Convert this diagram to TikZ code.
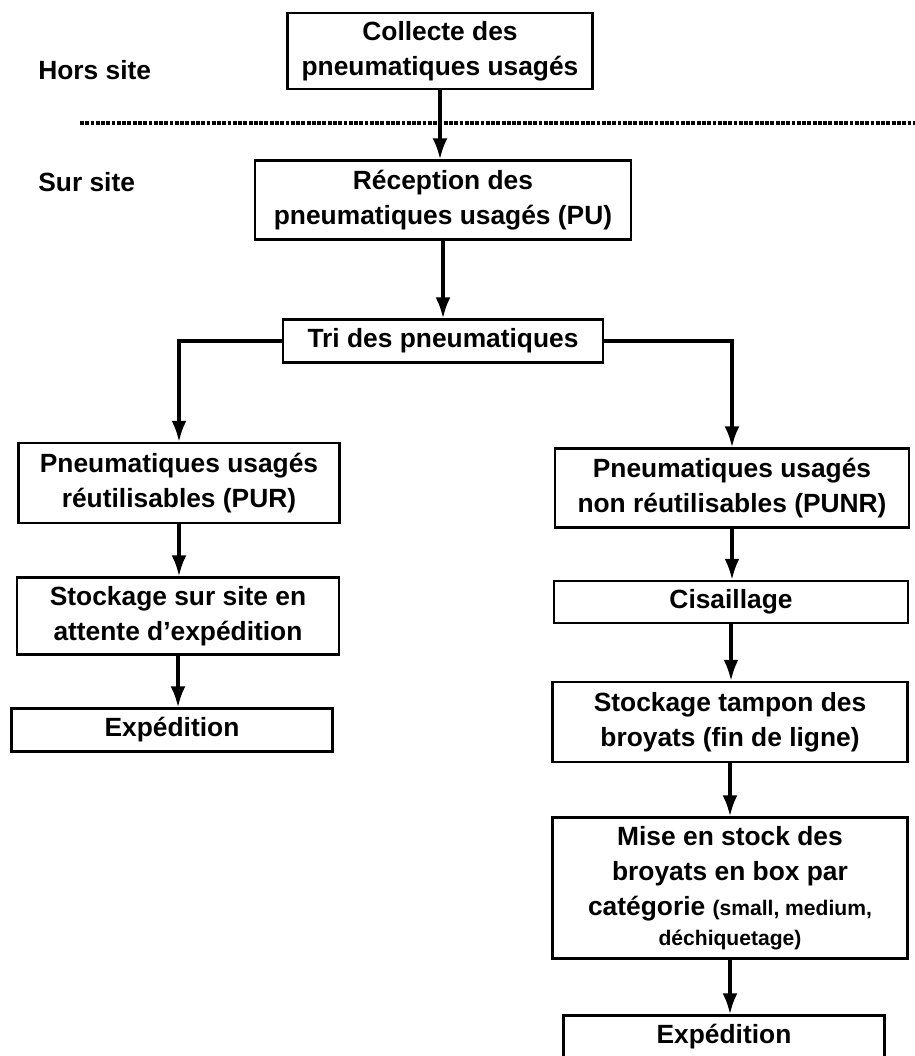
\documentclass[tikz,border=0pt]{standalone}
\usepackage{fontspec}
\setmainfont{Liberation Sans}
\usetikzlibrary{arrows.meta}
\tikzstyle{block} = [rectangle, draw=black, line width=1.3pt, align=center, inner sep=2pt, font=\bfseries\fontsize{15}{20}\selectfont]
\tikzstyle{zone} = [anchor=west, inner sep=0pt, font=\bfseries\fontsize{15}{20}\selectfont]
\tikzstyle{line} = [draw, line width=1.9pt, -{Latex[length=12pt,width=8.5pt]}]
\tikzstyle{border} = [draw, line width=2pt, dash pattern=on 2.2pt off 0.8pt]

\begin{document}
\begin{tikzpicture}[x=0.02cm, y=-0.02cm]
	\useasboundingbox (0,0) rectangle (915,1056);

	% Zones
	\node(hs) [zone] at (38,70) {Hors site};
	\node(ss) [zone] at (38,182) {Sur site};
	\coordinate (lim1) at (80,123);
	\coordinate (lim2) at (915,123);
	\path [border] (lim1) -- (lim2);

	% Main flow
	\node(c1) [block, minimum width=6.1cm, minimum height=1.52cm] at (440,51) {Collecte des\\pneumatiques usagés};
	\node(rec) [block, minimum width=7.52cm, minimum height=1.58cm] at (443,200) {Réception des\\pneumatiques usagés (PU)};
	\node(tri) [block, minimum width=6.4cm, minimum height=0.86cm] at (443,341) {Tri des pneumatiques};

	% Left branch
	\node(pur) [block, minimum width=6.42cm, minimum height=1.6cm] at (179,483) {Pneumatiques usagés\\réutilisables (PUR)};
	\node(sto) [block, minimum width=6.44cm, minimum height=1.54cm] at (178,616) {Stockage sur site en\\attente d'expédition};
	\node(exp1) [block, minimum width=6.42cm, minimum height=0.86cm] at (172,730) {Expédition};

	% Right branch
	\node(punr) [block, minimum width=7.08cm, minimum height=1.58cm] at (732,488) {Pneumatiques usagés\\non réutilisables (PUNR)};
	\node(cis) [block, minimum width=7.08cm, minimum height=0.84cm] at (731,602) {Cisaillage};
	\node(tamp) [block, minimum width=7.1cm, minimum height=1.6cm] at (730,722) {Stockage tampon des\\broyats (fin de ligne)};
	\node(mise) [block, minimum width=7.1cm, minimum height=2.82cm] at (730,888) {Mise en stock des\\broyats en box par\\catégorie {\fontsize{12}{20}\selectfont (small, medium,}\\[-3pt]{\fontsize{12}{15}\selectfont déchiquetage)}};
	\node(exp2) [block, minimum width=6.42cm, minimum height=0.86cm] at (724,1037) {Expédition};

	% Draw edges
	\path [line] (c1) -- (c1 |- rec.north);
	\path [line] (rec) -- (rec |- tri.north);
	\path [line] (tri.west) -| (pur.north);
	\path [line] (tri.east) -| (punr.north);
	\path [line] (pur) -- (pur |- sto.north);
	\path [line] (sto) -- (sto |- exp1.north);
	\path [line] (punr) -- (punr |- cis.north);
	\path [line] (cis) -- (cis |- tamp.north);
	\path [line] (tamp) -- (tamp |- mise.north);
	\path [line] (mise) -- (mise |- exp2.north);
\end{tikzpicture}
\end{document}
